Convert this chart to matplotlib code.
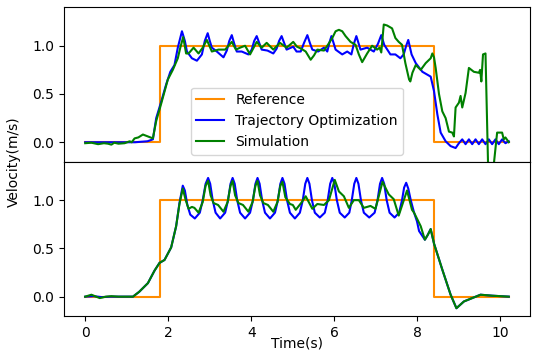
import matplotlib
matplotlib.use("Agg")
import matplotlib.pyplot as plt

# Reference step
ref_t = [0.0, 1.8, 1.8, 8.4, 8.4, 10.2]
ref_v = [0.0, 0.0, 1.0, 1.0, 0.0, 0.0]

# ---- Top panel ----
top_traj_t = [0.0, 0.4, 0.8, 1.2, 1.5, 1.63, 1.71, 1.83, 1.95, 2.05, 2.15, 2.23, 2.33,
              2.40, 2.45, 2.57, 2.69, 2.81, 2.88, 2.95, 3.00, 3.05, 3.17, 3.33, 3.41, 3.47,
              3.53, 3.59, 3.65, 3.77, 3.93, 4.01, 4.07, 4.13, 4.19, 4.25, 4.39, 4.53, 4.61,
              4.67, 4.73, 4.79, 4.85, 5.01, 5.09, 5.19, 5.27, 5.35, 5.41, 5.47, 5.61, 5.75,
              5.83, 5.88, 5.93, 5.98, 6.03, 6.19, 6.31, 6.41, 6.47, 6.53, 6.58, 6.63, 6.79,
              6.95, 7.05, 7.13, 7.20, 7.35, 7.47, 7.59, 7.67, 7.73, 7.78, 7.86, 7.96, 8.12,
              8.24, 8.32, 8.40, 8.48, 8.56, 8.68, 8.80, 8.92, 9.00, 9.08, 9.16, 9.24, 9.32,
              9.40, 9.48, 9.56, 9.64, 9.72, 9.80, 9.88, 9.96, 10.04, 10.12, 10.2]
top_traj_v = [0.0, 0.0, 0.0, 0.0, 0.01, 0.03, 0.25, 0.42, 0.60, 0.73, 0.80, 0.98, 1.15,
              1.05, 0.94, 0.87, 0.845, 0.91, 1.05, 1.13, 1.05, 0.98, 0.94, 0.88, 0.95, 1.05,
              1.11, 1.02, 0.94, 0.94, 0.91, 0.96, 1.05, 1.10, 1.03, 0.96, 0.95, 0.92, 0.97,
              1.05, 1.10, 1.03, 0.96, 0.99, 0.94, 0.94, 1.03, 1.11, 1.03, 0.96, 0.94, 0.98,
              0.94, 1.03, 1.10, 1.03, 0.96, 0.91, 0.94, 0.91, 1.02, 1.10, 1.03, 0.96, 0.98,
              0.94, 1.02, 1.11, 1.01, 0.91, 0.91, 0.87, 0.91, 1.00, 1.06, 0.91, 0.82, 0.73,
              0.70, 0.68, 0.53, 0.29, 0.10, 0.01, -0.04, -0.06, -0.01, 0.03, -0.02, 0.03, -0.02,
              0.03, -0.02, 0.03, -0.02, 0.03, -0.02, 0.03, -0.02, 0.03, -0.01, 0.01]

top_sim_t = [0.0, 0.15, 0.31, 0.45, 0.55, 0.63, 0.70, 0.80, 0.95, 1.07, 1.12, 1.19, 1.28,
             1.39, 1.51, 1.63, 1.71, 1.83, 1.99, 2.11, 2.23, 2.29, 2.36, 2.43, 2.49, 2.61,
             2.73, 2.83, 2.93, 3.05, 3.21, 3.37, 3.53, 3.63, 3.73, 3.85, 3.97, 4.13, 4.25,
             4.37, 4.53, 4.69, 4.85, 5.01, 5.10, 5.20, 5.31, 5.43, 5.51, 5.59, 5.75, 5.83,
             5.95, 6.03, 6.11, 6.19, 6.27, 6.39, 6.51, 6.59, 6.67, 6.79, 6.91, 7.03, 7.09,
             7.13, 7.19, 7.27, 7.39, 7.47, 7.55, 7.63, 7.71, 7.80, 7.83, 7.88, 7.96, 8.08,
             8.20, 8.32, 8.36, 8.40, 8.44, 8.52, 8.60, 8.68, 8.76, 8.84, 8.88, 8.92, 9.00,
             9.04, 9.08, 9.16, 9.24, 9.36, 9.48, 9.51, 9.54, 9.58, 9.64, 9.70, 9.76, 9.84,
             9.92, 10.04, 10.08, 10.12, 10.2]
top_sim_v = [-0.01, -0.005, -0.02, -0.01, -0.015, -0.025, -0.005, -0.015, -0.01, 0.01, 0.0,
             0.04, 0.05, 0.08, 0.06, 0.04, 0.22, 0.40, 0.65, 0.75, 0.87, 0.98, 1.09, 0.92,
             0.92, 0.98, 0.92, 0.98, 1.06, 0.94, 0.96, 0.96, 1.04, 0.96, 0.98, 1.00, 0.91,
             1.04, 0.98, 1.03, 0.96, 1.03, 0.98, 1.04, 0.99, 0.97, 0.94, 0.855, 0.90, 0.96,
             0.95, 1.00, 1.08, 1.15, 1.165, 1.15, 1.10, 1.04, 1.01, 0.91, 0.83, 0.92, 1.00,
             0.96, 0.98, 0.93, 1.22, 1.21, 1.18, 1.08, 1.04, 1.01, 0.82, 0.65, 0.63, 0.72,
             0.80, 0.75, 0.82, 0.87, 0.92, 0.88, 0.77, 0.50, 0.32, 0.25, 0.11, 0.10, 0.06,
             0.36, 0.41, 0.48, 0.36, 0.51, 0.77, 0.73, 0.72, 0.75, 0.63, 0.91, 0.92, -0.20,
             -0.30, -0.23, 0.10, 0.10, 0.03, 0.05, 0.0]

# ---- Bottom panel ----
bot_traj_t = [0.00, 0.20, 0.40, 0.60, 0.80, 1.00, 1.15, 1.30, 1.51, 1.67, 1.79, 1.91, 2.07,
              2.19, 2.27,
              2.35, 2.40, 2.46, 2.53, 2.64, 2.76, 2.83, 2.90,
              2.96, 3.01, 3.07, 3.14, 3.25, 3.37, 3.44, 3.50,
              3.55, 3.60, 3.66, 3.73, 3.85, 3.97, 4.04, 4.10,
              4.15, 4.20, 4.26, 4.33, 4.45, 4.57, 4.64, 4.70,
              4.75, 4.80, 4.86, 4.93, 5.05, 5.17, 5.24, 5.30,
              5.35, 5.40, 5.46, 5.53, 5.65, 5.77, 5.84, 5.90,
              5.95, 6.00, 6.06, 6.13, 6.25, 6.36, 6.42, 6.48,
              6.53, 6.58, 6.64, 6.71, 6.84, 6.97, 7.04, 7.10,
              7.15, 7.20, 7.26, 7.33, 7.45, 7.56, 7.63, 7.68,
              7.73, 7.78, 7.84, 7.92, 7.99, 8.04, 8.18, 8.25, 8.32, 8.40, 8.60, 8.80,
              8.94, 9.12, 9.52, 9.80, 10.2]
bot_traj_v = [0.0, 0.005, -0.005, 0.0, 0.0, 0.0, 0.0, 0.05, 0.14, 0.27, 0.35, 0.38, 0.51,
              0.73, 0.97,
              1.15, 1.10, 0.95, 0.85, 0.81, 0.87, 1.00, 1.17,
              1.23, 1.17, 1.00, 0.87, 0.81, 0.87, 1.00, 1.17,
              1.23, 1.17, 1.00, 0.87, 0.81, 0.87, 1.00, 1.17,
              1.23, 1.17, 1.00, 0.87, 0.81, 0.87, 1.00, 1.17,
              1.23, 1.17, 1.00, 0.87, 0.81, 0.87, 1.00, 1.17,
              1.23, 1.17, 1.00, 0.87, 0.82, 0.87, 1.00, 1.17,
              1.23, 1.17, 1.00, 0.87, 0.82, 0.87, 1.00, 1.17,
              1.23, 1.17, 1.00, 0.87, 0.82, 0.87, 1.00, 1.17,
              1.23, 1.17, 1.00, 0.87, 0.82, 0.87, 1.00, 1.13,
              1.18, 1.12, 1.00, 0.87, 0.78, 0.68, 0.59, 0.64, 0.70, 0.55, 0.28, 0.02,
              -0.12, -0.05, 0.02, 0.01, 0.0]

bot_sim_t = [0.00, 0.15, 0.35, 0.50, 0.63, 0.80, 1.15, 1.30, 1.51, 1.67, 1.79, 1.91, 2.07,
             2.19, 2.27, 2.35, 2.42, 2.49, 2.57, 2.63, 2.73, 2.83, 2.90,
             2.96, 3.02, 3.09, 3.20, 3.33, 3.43, 3.50,
             3.55, 3.61, 3.69, 3.80, 3.93, 4.03, 4.10,
             4.15, 4.21, 4.29, 4.40, 4.53, 4.63, 4.70,
             4.75, 4.82, 4.93, 5.00, 5.07, 5.20, 5.31, 5.47, 5.59, 5.75, 5.87,
             6.01, 6.11, 6.23, 6.35, 6.47, 6.59, 6.71, 6.87, 6.99, 7.16, 7.31, 7.43,
             7.55, 7.75, 7.87, 7.92, 8.00, 8.08, 8.18, 8.25, 8.32, 8.40, 8.60, 8.80,
             8.94, 9.12, 9.52, 9.80, 10.2]
bot_sim_v = [0.0, 0.02, -0.015, 0.0, 0.005, 0.0, 0.0, 0.05, 0.14, 0.27, 0.35, 0.38, 0.51,
             0.73, 0.96, 1.12, 1.00, 0.91, 0.93, 0.92, 0.87, 0.98, 1.15,
             1.20, 1.05, 0.97, 0.95, 0.88, 0.98, 1.15,
             1.20, 1.05, 0.97, 0.95, 0.88, 0.98, 1.15,
             1.20, 1.05, 0.97, 0.95, 0.88, 0.98, 1.15,
             1.19, 1.03, 0.96, 0.95, 0.90, 0.97, 1.04, 0.91, 0.96, 0.95, 1.00,
             1.21, 1.09, 1.04, 0.92, 1.00, 1.00, 0.92, 0.94, 0.91, 1.19, 1.06, 1.01,
             0.84, 1.10, 0.90, 0.87, 0.80, 0.73, 0.59, 0.64, 0.70, 0.55, 0.28, 0.02,
             -0.12, -0.05, 0.02, 0.01, 0.0]

c_ref = "darkorange"
c_traj = "blue"
c_sim = "green"

fig, (ax1, ax2) = plt.subplots(2, 1, sharex=True, figsize=(5.38, 3.57), dpi=100)
fig.subplots_adjust(left=0.119, right=0.985, top=0.980, bottom=0.115, hspace=0)

ax1.plot(ref_t, ref_v, color=c_ref, lw=1.5, label="Reference")
ax1.plot(top_traj_t, top_traj_v, color=c_traj, lw=1.5, label="Trajectory Optimization")
ax1.plot(top_sim_t, top_sim_v, color=c_sim, lw=1.5, label="Simulation")
ax1.set_ylim(-0.2, 1.4)
ax1.set_yticks([0.0, 0.5, 1.0])
ax1.legend(loc="lower center")

ax2.plot(ref_t, ref_v, color=c_ref, lw=1.5)
ax2.plot(bot_traj_t, bot_traj_v, color=c_traj, lw=1.5)
ax2.plot(bot_sim_t, bot_sim_v, color=c_sim, lw=1.5)
ax2.set_ylim(-0.2, 1.4)
ax2.set_yticks([0.0, 0.5, 1.0])
ax2.set_xticks([0, 2, 4, 6, 8, 10])
ax2.set_xlabel("Time(s)", labelpad=-2)

fig.text(0.026, 0.546, "Velocity(m/s)", rotation=90, ha="center", va="center", fontsize=10)

fig.savefig("out.png", dpi=100)
